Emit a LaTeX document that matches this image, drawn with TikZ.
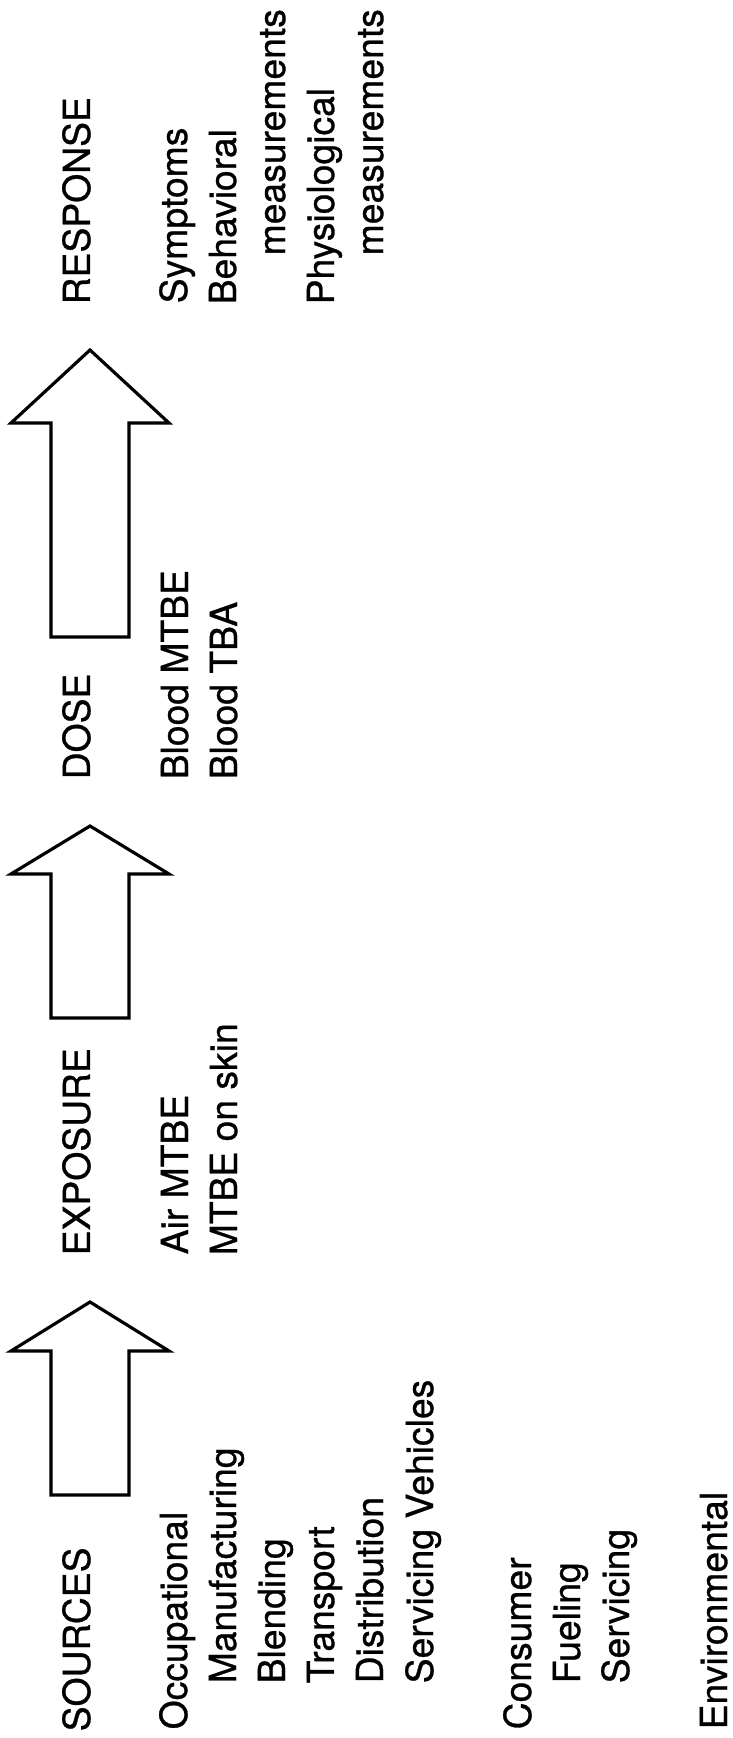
\documentclass[tikz,border=0pt]{standalone}
\usepackage{fontspec}
\setmainfont{TeX Gyre Heros}[FakeBold=0.8]
\tikzset{
  hdr/.style={anchor=base west, inner sep=0pt, font=\fontsize{10.6}{13}\selectfont},
  itm/.style={hdr},
  blk/.style={draw=black, line width=0.9pt, line join=miter, fill=white},
}
% hollow block arrow: tail, head base, tip (along the reading direction)
\newcommand{\blockarrow}[3]{%
  \draw[blk] (#1,-51) -- (#2,-51) -- (#2,-11) -- (#3,-90) -- (#2,-169)
    -- (#2,-129) -- (#1,-129) -- cycle;}

\begin{document}
\begin{tikzpicture}[x=0.01cm, y=0.01cm]
  \useasboundingbox (0,0) rectangle (733,1738);
  \begin{scope}[rotate=90, transform shape]
  % Headings
  \node[hdr] (src)  at (6,-90)    {SOURCES};
  \node[hdr] (expo) at (482,-90)  {EXPOSURE};
  \node[hdr] (dose) at (958,-90)  {DOSE};
  \node[hdr] (resp) at (1433,-90) {RESPONSE};
  % Sources
  \node[itm] (occ)     at (8,-187)  {Occupational};
  \node[itm] (manu)    at (54,-236) {Manufacturing};
  \node[itm] (blend)   at (54,-285) {Blending};
  \node[itm] (transp)  at (54,-334) {Transport};
  \node[itm] (distr)   at (54,-383) {Distribution};
  \node[itm] (servveh) at (54,-433) {Servicing Vehicles};
  \node[itm] (cons)    at (8,-531)  {Consumer};
  \node[itm] (fuel)    at (54,-580) {Fueling};
  \node[itm] (serv)    at (54,-629) {Servicing};
  \node[itm] (env)     at (8,-727)  {Environmental};
  % Exposure
  \node[itm] (air)  at (483,-188) {Air MTBE};
  \node[itm] (skin) at (482,-237) {MTBE on skin};
  % Dose
  \node[itm] (bmtbe) at (958,-188) {Blood MTBE};
  \node[itm] (btba)  at (958,-237) {Blood TBA};
  % Response
  \node[itm] (symp)  at (1434,-187) {Symptoms};
  \node[itm] (behav) at (1433,-236) {Behavioral};
  \node[itm] (bmeas) at (1482,-285) {measurements};
  \node[itm] (phys)  at (1433,-334) {Physiological};
  \node[itm] (pmeas) at (1482,-383) {measurements};
  % the three arrows between the headings
  \blockarrow{243}{387}{436}
  \blockarrow{720}{864}{912}
  \blockarrow{1101}{1315}{1388}
  \end{scope}
\end{tikzpicture}
\end{document}
